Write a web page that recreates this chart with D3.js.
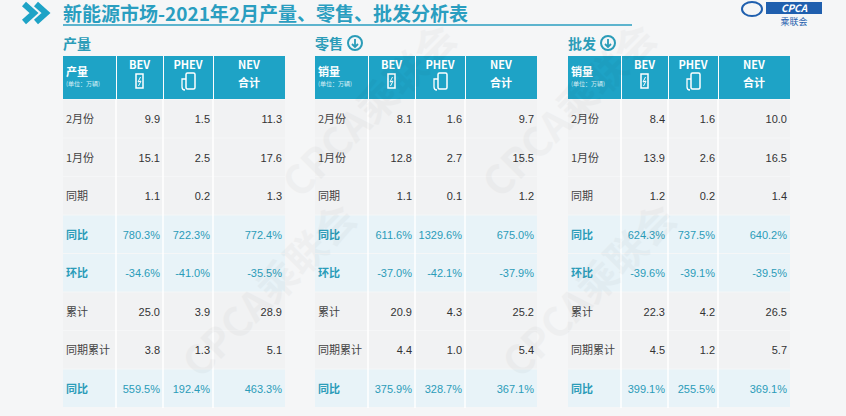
<!DOCTYPE html>
<html>
<head>
<meta charset="utf-8">
<style>
  body { margin: 0; background: #f5f6f7; }
  text { font-family: "Noto Sans CJK SC", "Noto Sans", sans-serif; }
</style>
<script src="https://d3js.org/d3.v7.min.js"></script>
</head>
<body>
<div id="chart"></div>
<script>
  "use strict";
  var rowLabels = ["2月份", "1月份", "同期", "同比", "环比", "累计", "同期累计", "同比"];
  var highlightRows = [3, 4, 7];
  var seriesCols = ["BEV", "PHEV", "NEV"];
  var tableTitles = ["产量", "零售", "批发"];
  var headLabels = ["产量", "销量", "销量"];
  var prodValues = [
    ["9.9", "1.5", "11.3"], ["15.1", "2.5", "17.6"], ["1.1", "0.2", "1.3"],
    ["780.3%", "722.3%", "772.4%"], ["-34.6%", "-41.0%", "-35.5%"],
    ["25.0", "3.9", "28.9"], ["3.8", "1.3", "5.1"], ["559.5%", "192.4%", "463.3%"]
  ];
  var retailValues = [
    ["8.1", "1.6", "9.7"], ["12.8", "2.7", "15.5"], ["1.1", "0.1", "1.2"],
    ["611.6%", "1329.6%", "675.0%"], ["-37.0%", "-42.1%", "-37.9%"],
    ["20.9", "4.3", "25.2"], ["4.4", "1.0", "5.4"], ["375.9%", "328.7%", "367.1%"]
  ];
  var wholesaleValues = [
    ["8.4", "1.6", "10.0"], ["13.9", "2.6", "16.5"], ["1.2", "0.2", "1.4"],
    ["624.3%", "737.5%", "640.2%"], ["-39.6%", "-39.1%", "-39.5%"],
    ["22.3", "4.2", "26.5"], ["4.5", "1.2", "5.7"], ["399.1%", "255.5%", "369.1%"]
  ];
  var tables = [prodValues, retailValues, wholesaleValues];

  var W = 846, H = 416, teal = "#1ea3c6", tealText = "#2b9cb8";
  var svg = d3.select("#chart").append("svg").attr("width", W).attr("height", H);
  svg.append("rect").attr("width", W).attr("height", H).attr("fill", "#f5f6f7");

  // title
  svg.append("path").attr("d", "M24,4 L34,13 L24,22 M36,4 L46,13 L36,22")
    .attr("fill", "none").attr("stroke", "#1ea3c6").attr("stroke-width", 6);
  svg.append("text").attr("x", 63).attr("y", 21).attr("fill", "#2a9ec0")
    .style("font-size", "19px").style("font-weight", "bold")
    .text("新能源市场-2021年2月产量、零售、批发分析表");
  svg.append("line").attr("x1", 63).attr("x2", 632).attr("y1", 25).attr("y2", 25)
    .attr("stroke", "#2a9ec0").attr("stroke-width", 1.5);
  // logo
  svg.append("rect").attr("x", 766).attr("y", 2).attr("width", 56).attr("height", 12).attr("fill", "#1f5fae");
  svg.append("text").attr("x", 794).attr("y", 12).attr("text-anchor", "middle").attr("fill", "#fff")
    .style("font-size", "10px").style("font-weight", "bold").style("font-style", "italic").text("CPCA");
  svg.append("text").attr("x", 794).attr("y", 25).attr("text-anchor", "middle").attr("fill", "#1f5fae")
    .style("font-size", "9px").text("乘联会");
  svg.append("ellipse").attr("cx", 752).attr("cy", 9).attr("rx", 10).attr("ry", 7)
    .attr("fill", "none").attr("stroke", "#1f5fae").attr("stroke-width", 2);

  var y = d3.scaleBand().domain(d3.range(rowLabels.length)).range([100, 408]);
  var tableX = [63, 315, 568];
  var colEdges = [0, 53, 100, 150, 222]; // relative column edges

  tables.forEach(function(vals, t) {
    var g = svg.append("g").attr("transform", "translate(" + tableX[t] + ",0)");
    g.append("text").attr("x", 0).attr("y", 49).attr("fill", tealText)
      .style("font-size", "14px").style("font-weight", "bold").text(tableTitles[t]);
    if (t > 0) {
      g.append("circle").attr("cx", 40).attr("cy", 43).attr("r", 7)
        .attr("fill", "none").attr("stroke", tealText).attr("stroke-width", 2);
      g.append("path").attr("d", "M40,39 V47 M37,44 L40,47 L43,44")
        .attr("fill", "none").attr("stroke", tealText).attr("stroke-width", 1.8);
    }
    g.selectAll(".row").data(rowLabels).join("rect")
      .attr("x", 0).attr("y", function(d, i) { return y(i); })
      .attr("width", colEdges[4]).attr("height", y.bandwidth() - 1)
      .attr("fill", function(d, i) { return highlightRows.indexOf(i) >= 0 ? "#e8f3f8" : "#f1f2f3"; });
    colEdges.slice(1, 4).forEach(function(cx) {
      g.append("line").attr("x1", cx).attr("x2", cx).attr("y1", 56).attr("y2", 408)
        .attr("stroke", "#fff").attr("stroke-width", 1.5);
    });
    for (var c = 0; c < 4; c++) {
      g.append("rect").attr("x", colEdges[c] + (c ? 1 : 0)).attr("y", 56)
        .attr("width", colEdges[c + 1] - colEdges[c] - (c ? 1 : 0)).attr("height", 43).attr("fill", teal);
    }
    g.append("text").attr("x", 3).attr("y", 76).attr("fill", "#fff")
      .style("font-size", "11px").style("font-weight", "bold").text(headLabels[t]);
    g.append("text").attr("x", 3).attr("y", 86).attr("fill", "#d8f0f7")
      .style("font-size", "6px").text("(单位：万辆)");
    seriesCols.forEach(function(s, j) {
      var cx = (colEdges[j + 1] + colEdges[j + 2]) / 2;
      g.append("text").attr("x", cx).attr("y", 69).attr("text-anchor", "middle").attr("fill", "#fff")
        .style("font-size", "11px").style("font-weight", "bold").text(s);
      if (j === 0) {
        g.append("rect").attr("x", cx - 3.5).attr("y", 74).attr("width", 7).attr("height", 14)
          .attr("fill", "none").attr("stroke", "#fff").attr("stroke-width", 1.5);
        g.append("path").attr("d", "M" + (cx + 1) + ",77 L" + (cx - 1.5) + ",82 L" + (cx + 1.5) + ",81 L" + (cx - 1) + ",86")
          .attr("fill", "none").attr("stroke", "#fff").attr("stroke-width", 1);
      } else if (j === 1) {
        g.append("rect").attr("x", cx - 2).attr("y", 73).attr("width", 9).attr("height", 16).attr("rx", 1.5)
          .attr("fill", "none").attr("stroke", "#fff").attr("stroke-width", 1.5);
        g.append("path").attr("d", "M" + (cx - 2) + ",79 h-4 v8 q0,3 3,3")
          .attr("fill", "none").attr("stroke", "#fff").attr("stroke-width", 1.3);
      } else {
        g.append("text").attr("x", cx).attr("y", 87).attr("text-anchor", "middle").attr("fill", "#fff")
          .style("font-size", "11px").style("font-weight", "bold").text("合计");
      }
    });
    rowLabels.forEach(function(lbl, i) {
      var hl = highlightRows.indexOf(i) >= 0;
      var ty = y(i) + y.bandwidth() / 2 + 4;
      g.append("text").attr("x", 3).attr("y", ty).attr("fill", hl ? tealText : "#444")
        .style("font-size", "11px").style("font-weight", hl ? "bold" : "normal").text(lbl);
      vals[i].forEach(function(v, j) {
        g.append("text").attr("x", colEdges[j + 2] - 3).attr("y", ty).attr("text-anchor", "end")
          .attr("fill", hl ? tealText : "#333").style("font-size", "11px")
          .style("font-family", "Arial, 'Liberation Sans', sans-serif").text(v);
      });
    });
  });

  // faint watermark
  [[300, 200], [500, 200], [200, 380], [520, 380]].forEach(function(p) {
    svg.append("text").attr("transform", "translate(" + p[0] + "," + p[1] + ") rotate(-45)")
      .attr("fill", "#000").attr("opacity", 0.025).style("font-size", "40px").style("font-weight", "bold")
      .text("CPCA乘联会");
  });
</script>
</body>
</html>
